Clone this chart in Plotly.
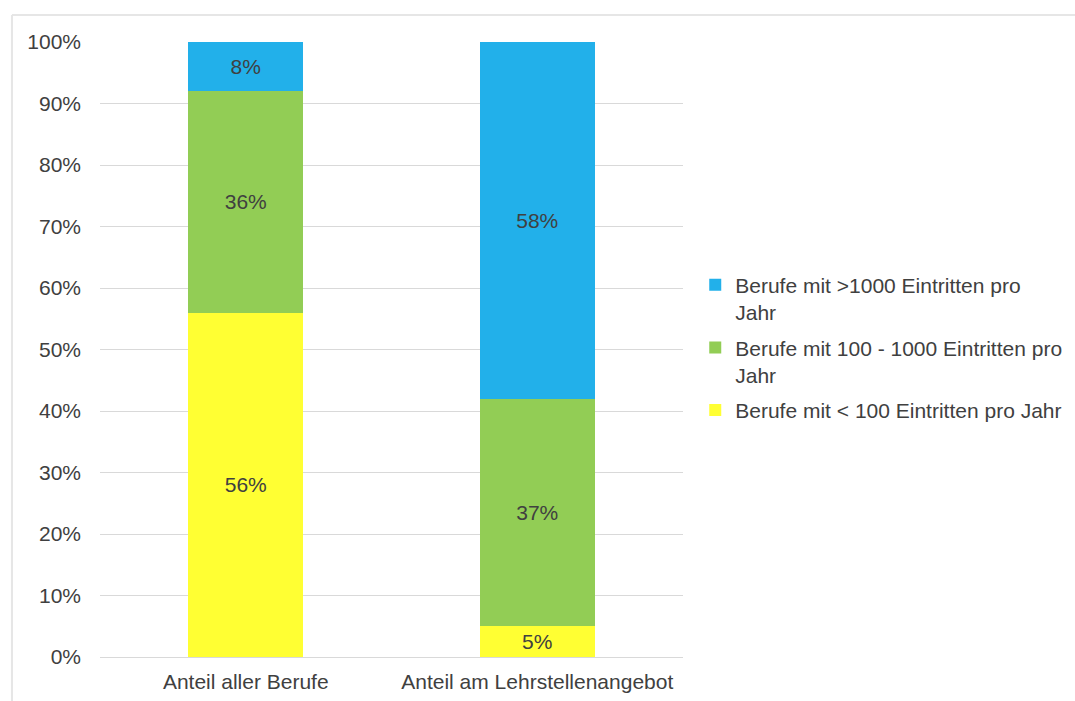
import plotly.graph_objects as go

categories = ["Anteil aller Berufe", "Anteil am Lehrstellenangebot"]
series_names = [
    "Berufe mit < 100 Eintritten pro Jahr",
    "Berufe mit 100 - 1000 Eintritten pro<br>Jahr",
    "Berufe mit >1000 Eintritten pro<br>Jahr",
]
small_vals = [56, 5]
medium_vals = [36, 37]
large_vals = [8, 58]
colors = ["#FFFF33", "#92CD55", "#22B0EA"]
legend_ranks = [3, 2, 1]
y_ticks = list(range(0, 101, 10))

FONT = "Liberation Sans, Arial, Helvetica, sans-serif"
TXT = "#404040"
FS = 21

fig = go.Figure()
for i, (name, vals, col, rank) in enumerate(zip(series_names, [small_vals, medium_vals, large_vals], colors, legend_ranks)):
    fig.add_trace(go.Bar(
        x=categories, y=vals, name=name, legendgroup=f"g{i}", legendrank=rank,
        marker=dict(color=col, line=dict(width=0)),
        text=[f"{v}%" for v in vals],
        textposition="inside", insidetextanchor="middle", textangle=0,
        textfont=dict(family=FONT, size=FS, color=TXT),
        constraintext="none",
    ))

fig.update_layout(
    barmode="stack",
    bargap=0.605,
    width=1075, height=701,
    margin=dict(l=100, r=392, t=42, b=44, autoexpand=False),
    paper_bgcolor="white", plot_bgcolor="white",
    font=dict(family=FONT, size=FS, color=TXT),
    showlegend=True,
    legend=dict(
        traceorder="grouped",
        tracegroupgap=5,
        valign="top",
        x=1.021, xanchor="left", y=0.638, yanchor="top",
        font=dict(family=FONT, size=FS, color=TXT),
        bgcolor="rgba(0,0,0,0)",
    ),
    xaxis=dict(showgrid=False, showline=False, zeroline=False,
               ticklabelstandoff=10,
               tickfont=dict(size=FS, color=TXT)),
    yaxis=dict(range=[0, 100], tickvals=y_ticks,
               ticktext=[f"{v}%" for v in y_ticks],
               showgrid=True, gridcolor="#D9D9D9", gridwidth=1,
               zeroline=True, zerolinecolor="#D9D9D9", zerolinewidth=1,
               showline=False, ticks="", ticklabelstandoff=18,
               tickfont=dict(size=FS, color=TXT)),
)

# light frame (top and left edges)
fig.add_shape(type="line", xref="paper", yref="paper",
              x0=-0.151, x1=1.7, y0=1.044, y1=1.044,
              line=dict(color="#E6E6E6", width=2))
fig.add_shape(type="line", xref="paper", yref="paper",
              x0=-0.151, x1=-0.151, y0=1.044, y1=-0.08,
              line=dict(color="#E6E6E6", width=2))

fig.write_html("out.html")
